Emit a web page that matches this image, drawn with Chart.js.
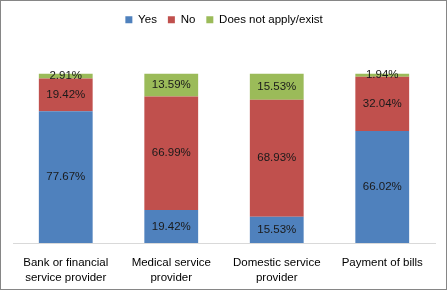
<!DOCTYPE html>
<html>
<head>
<meta charset="utf-8">
<script src="https://cdn.jsdelivr.net/npm/chart.js@4"></script>
<style>
  html, body { margin: 0; padding: 0; background: #fff; }
  #box { width: 445px; height: 288px; border: 1px solid #868686; position: relative; }
  canvas { display: block; }
</style>
</head>
<body>
<div id="box"><canvas id="c" width="445" height="288"></canvas></div>
<script>
// categories (two-line tick labels)
var CATEGORIES = [
  ['Bank or financial', 'service provider'],
  ['Medical service', 'provider'],
  ['Domestic service', 'provider'],
  ['Payment of bills']
];
var SERIES = ['Yes', 'No', 'Does not apply/exist'];
var YES = [77.67, 19.42, 15.53, 66.02];
var NO = [19.42, 66.99, 68.93, 32.04];
var NA = [2.91, 13.59, 15.53, 1.94];
var COLORS = ['#4F81BD', '#C0504D', '#9BBB59'];

var FONT = '"Liberation Sans", "DejaVu Sans", sans-serif';

// percent labels drawn in the middle of each segment
var barLabels = {
  id: 'barLabels',
  afterDatasetsDraw: function (chart) {
    var ctx = chart.ctx;
    ctx.save();
    ctx.font = '11.5px ' + FONT;
    ctx.fillStyle = '#1a1a1a';
    ctx.textAlign = 'center';
    ctx.textBaseline = 'middle';
    chart.data.datasets.forEach(function (ds, i) {
      chart.getDatasetMeta(i).data.forEach(function (bar, j) {
        var y = (bar.y + bar.base) / 2;
        ctx.fillText(ds.data[j].toFixed(2) + '%', bar.x, y);
      });
    });
    ctx.restore();
  }
};

// extra room under the legend
var legendGap = {
  id: 'legendGap',
  beforeInit: function (chart) {
    var fit = chart.legend.fit;
    chart.legend.fit = function () {
      fit.bind(chart.legend)();
      this.height += 38;
    };
  }
};

new Chart(document.getElementById('c'), {
  type: 'bar',
  data: {
    labels: CATEGORIES,
    datasets: [
      { label: SERIES[0], data: YES, backgroundColor: COLORS[0] },
      { label: SERIES[1], data: NO, backgroundColor: COLORS[1] },
      { label: SERIES[2], data: NA, backgroundColor: COLORS[2] }
    ]
  },
  options: {
    responsive: false,
    animation: false,
    events: [],
    layout: { padding: { left: 12, right: 11, top: 2, bottom: 4 } },
    datasets: { bar: { categoryPercentage: 1, barPercentage: 0.51 } },
    plugins: {
      tooltip: { enabled: false },
      legend: {
        position: 'top',
        labels: {
          boxWidth: 7, boxHeight: 7, padding: 11,
          color: '#000',
          font: { family: FONT, size: 11.5 }
        }
      }
    },
    scales: {
      x: {
        stacked: true,
        grid: { display: false, drawTicks: false },
        border: { display: true, color: '#d9d9d9' },
        ticks: { color: '#000', padding: 12, font: { family: FONT, size: 11.5, lineHeight: 1.3 }, maxRotation: 0 },
        afterFit: function (scale) { scale.height = 42; }
      },
      y: {
        stacked: true,
        display: false,
        min: 0, max: 100
      }
    }
  },
  plugins: [barLabels, legendGap]
});
</script>
</body>
</html>
